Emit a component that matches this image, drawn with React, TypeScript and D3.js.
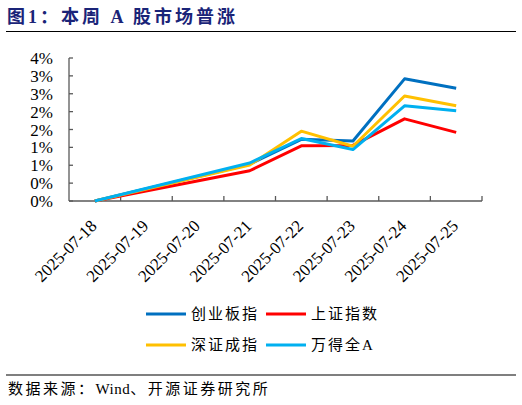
import { useEffect } from "react"
import * as d3 from "d3"

// categories (trading days; weekend has no data)
const dates = [
  "2025-07-18", "2025-07-19", "2025-07-20", "2025-07-21",
  "2025-07-22", "2025-07-23", "2025-07-24", "2025-07-25",
]

// cumulative change, %
const chinext: (number | null)[] = [0, null, null, 0.9, 1.51, 1.47, 2.99, 2.76]
const shanghai: (number | null)[] = [0, null, null, 0.74, 1.35, 1.36, 2.01, 1.68]
const shenzhen: (number | null)[] = [0, null, null, 0.88, 1.71, 1.34, 2.57, 2.33]
const windAll: (number | null)[] = [0, null, null, 0.93, 1.53, 1.26, 2.33, 2.21]

const seriesNames = ["创业板指", "上证指数", "深证成指", "万得全A"]
const seriesColors = ["#0070C0", "#FF0000", "#FFC000", "#00B0F0"]
const seriesValues = [chinext, shanghai, shenzhen, windAll]

const yTicks = d3.range(0, 9).map((i) => (i * 3.5) / 8)
const yTickLabels = ["0%", "0%", "1%", "1%", "2%", "2%", "3%", "3%", "4%"]

const W = 522
const H = 405
const M = { left: 69, right: 482, top: 58, bottom: 201 }

const serif = "'Liberation Serif', 'Times New Roman', serif"
const cjk = "'Liberation Serif', 'Noto Sans CJK SC', serif"

export default function App() {
  useEffect(() => {
    document.body.style.margin = "0"
  }, [])

  const x = d3.scaleBand<string>().domain(dates).range([M.left, M.right])
  const y = d3.scaleLinear().domain([0, 3.5]).range([M.bottom, M.top])
  const cx = (d: string) => (x(d) ?? 0) + x.bandwidth() / 2

  const line = d3
    .line<{ d: string; v: number }>()
    .x((p) => cx(p.d))
    .y((p) => y(p.v))

  const axisColor = "#595959"

  return (
    <svg width={W} height={H} style={{ display: "block", background: "#fff" }}>
      {/* title */}
      <text x={7} y={23} fontFamily={cjk} fontSize={18} fontWeight="bold" letterSpacing={3} fill="#1A2478">
        图1：本周 A 股市场普涨
      </text>
      <line x1={6} x2={516} y1={31.5} y2={31.5} stroke="#000" strokeWidth={1.2} />

      {/* y axis */}
      <line x1={M.left} x2={M.left} y1={M.top} y2={M.bottom} stroke={axisColor} strokeWidth={1.3} />
      {yTicks.map((t, i) => (
        <g key={i}>
          <line x1={M.left} x2={M.left + 4} y1={y(t)} y2={y(t)} stroke={axisColor} strokeWidth={1.3} />
          <text
            x={53}
            y={y(t)}
            dy="0.36em"
            textAnchor="end"
            fontFamily={serif}
            fontSize={17}
            fill="#000"
          >
            {yTickLabels[i]}
          </text>
        </g>
      ))}

      {/* x axis */}
      <line x1={M.left} x2={M.right} y1={M.bottom} y2={M.bottom} stroke={axisColor} strokeWidth={1.3} />
      {dates.map((d, i) => (
        <line
          key={"t" + i}
          x1={(x(d) ?? 0) + x.bandwidth()}
          x2={(x(d) ?? 0) + x.bandwidth()}
          y1={M.bottom}
          y2={M.bottom - 5}
          stroke={axisColor}
          strokeWidth={1.3}
        />
      ))}
      {dates.map((d) => (
        <text
          key={d}
          transform={`translate(${cx(d) + 3},${M.bottom + 26}) rotate(-45)`}
          textAnchor="end"
          fontFamily={serif}
          fontSize={17}
          fill="#000"
        >
          {d}
        </text>
      ))}

      {/* lines */}
      {seriesValues.map((vals, si) => {
        const pts = vals
          .map((v, i) => ({ d: dates[i], v }))
          .filter((p): p is { d: string; v: number } => p.v !== null)
        return (
          <path
            key={si}
            d={line(pts) ?? ""}
            fill="none"
            stroke={seriesColors[si]}
            strokeWidth={3}
            strokeLinejoin="round"
          />
        )
      })}

      {/* legend */}
      {seriesNames.map((name, i) => {
        const lx = i % 2 === 0 ? 146 : 266
        const ly = i < 2 ? 314 : 345
        return (
          <g key={name}>
            <line x1={lx} x2={lx + 40} y1={ly} y2={ly} stroke={seriesColors[i]} strokeWidth={3} />
            <text
              x={lx + 45}
              y={ly}
              dy="0.36em"
              fontFamily={cjk}
              fontSize={15}
              letterSpacing={2}
              fill="#000"
            >
              {name}
            </text>
          </g>
        )
      })}

      {/* source */}
      <line x1={6} x2={516} y1={375} y2={375} stroke="#000" strokeWidth={1.2} />
      <text x={8} y={394} fontFamily={cjk} fontSize={15} fill="#000">
        <tspan letterSpacing={2.5}>数据来源：</tspan>
        <tspan letterSpacing={0.5}>Wind</tspan>
        <tspan letterSpacing={2.5}>、开源证券研究所</tspan>
      </text>
    </svg>
  )
}
